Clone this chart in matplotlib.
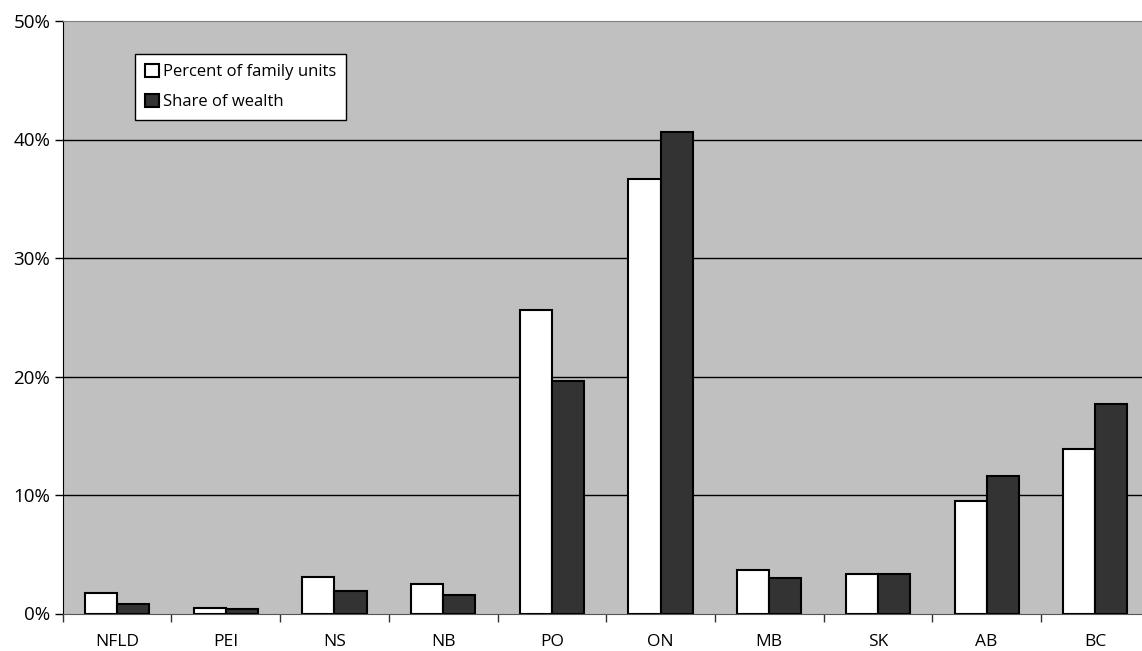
import numpy as np
import matplotlib
matplotlib.use("Agg")
import matplotlib.pyplot as plt

plt.rcParams['font.family'] = ['Open Sans', 'DejaVu Sans']

provinces = ["NFLD", "PEI", "NS", "NB", "PO", "ON", "MB", "SK", "AB", "BC"]
family_units = [1.7, 0.45, 3.05, 2.45, 25.6, 36.7, 3.7, 3.3, 9.5, 13.85]
wealth_share = [0.76, 0.4, 1.86, 1.55, 19.6, 40.6, 3.0, 3.3, 11.6, 17.7]
yticks = [0, 10, 20, 30, 40, 50]

W, H = 1142, 651
fig = plt.figure(figsize=(W / 100, H / 100), dpi=100)
# axes runs a bit past the right edge, like the original crop
ax = fig.add_axes([62.7 / W, (H - 613.5) / H, 1087 / W, (613.5 - 21) / H])
ax.set_facecolor("#C0C0C0")

x = np.arange(len(provinces))
bw = 0.295
ax.bar(x - bw / 2, family_units, bw, color="white", edgecolor="black",
       linewidth=1.5, label="Percent of family units", zorder=3)
ax.bar(x + bw / 2, wealth_share, bw, color="#333333", edgecolor="black",
       linewidth=1.5, label="Share of wealth", zorder=3)

ax.set_xlim(-0.5, len(provinces) - 0.5)
ax.set_ylim(0, 50)
ax.set_yticks(yticks)
ax.set_yticklabels(["%d%%" % v for v in yticks], fontsize=13.5)
for v in yticks[1:-1]:
    ax.axhline(v, color="black", linewidth=1, zorder=1)

ax.set_xticks(np.arange(len(provinces) + 1) - 0.5)
ax.set_xticklabels([])
ax.set_xticks(x, minor=True)
ax.set_xticklabels(provinces, minor=True, fontsize=12.5)
ax.tick_params(axis="x", which="major", length=6, width=1, color="#333333")
ax.tick_params(axis="x", which="minor", length=0, pad=15)
ax.tick_params(axis="y", length=6, width=1, pad=3)

ax.spines["left"].set_color("black")
ax.spines["top"].set_color("#808080")
ax.spines["bottom"].set_color("#555555")
ax.spines["right"].set_visible(False)

leg = ax.legend(loc="upper left", bbox_to_anchor=(72 / 1087, 1 - 33 / 592.5),
                fontsize=12, frameon=True, fancybox=False, handlelength=0.85,
                handleheight=0.85, handletextpad=0.25, borderpad=0.6,
                labelspacing=0.8, borderaxespad=0)
leg.get_frame().set_edgecolor("black")
leg.get_frame().set_linewidth(1)
leg.get_frame().set_alpha(1)

fig.savefig("out.png", dpi=100)
